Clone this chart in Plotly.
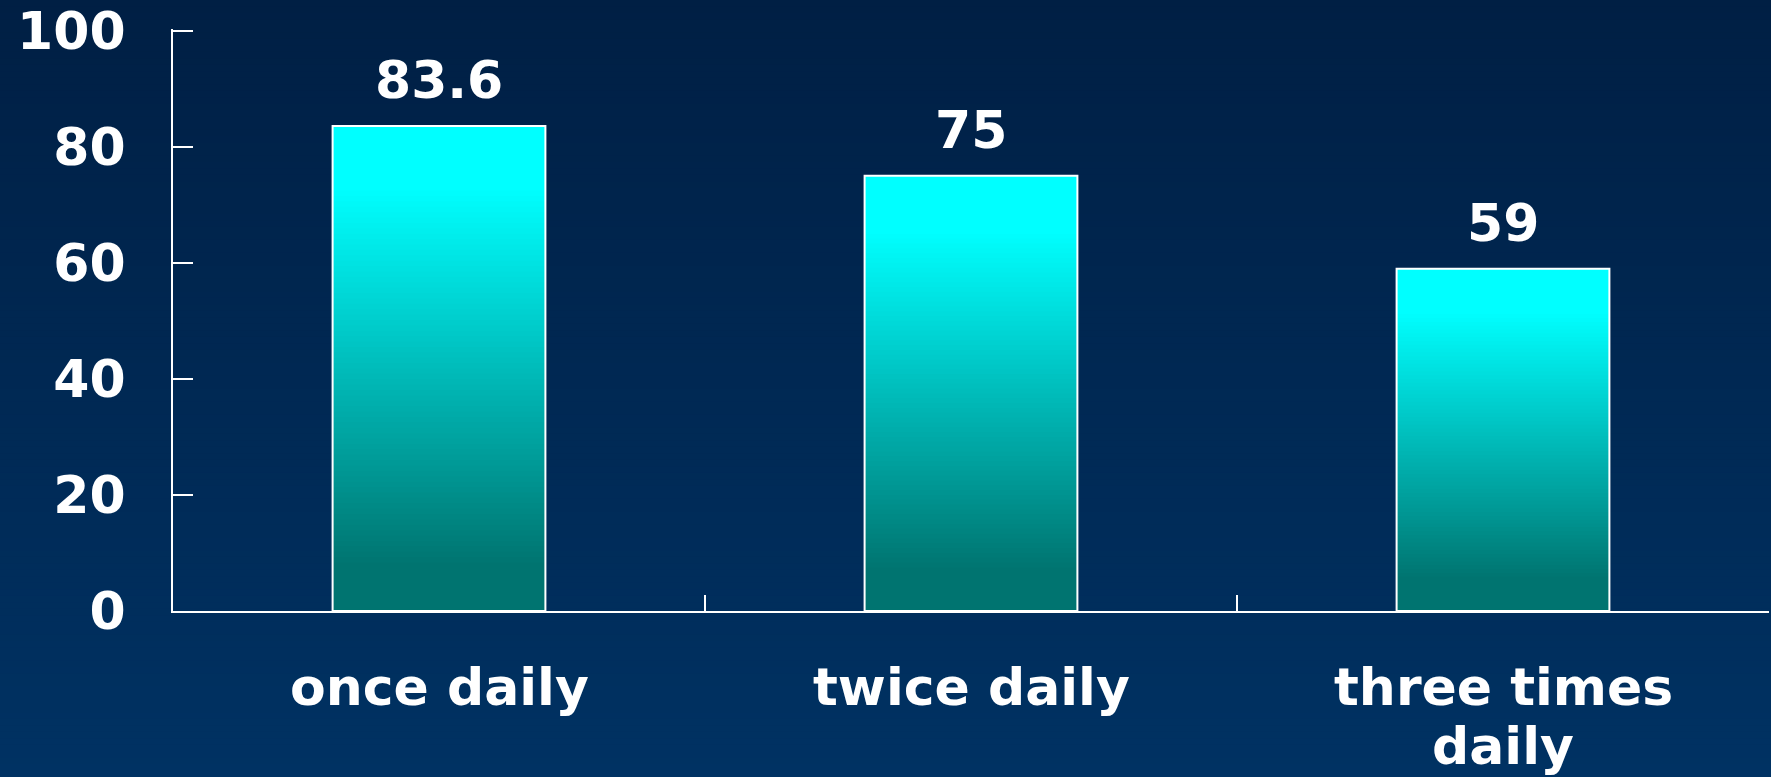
import plotly.graph_objects as go

# Share of patients by dosing frequency
categories = ["once daily", "twice daily", "three times daily"]
category_lines = [["once daily"], ["twice daily"], ["three times", "daily"]]
values = [83.6, 75, 59]
value_labels = ["83.6", "75", "59"]
y_ticks = [0, 20, 40, 60, 80, 100]

W, H = 1771, 777
FONT = "DejaVu Sans"
FSIZE = 52
TOP_BG = (0, 31, 68)
BOTTOM_BG = (0, 50, 99)
BAR_TOP = (0, 255, 255)
BAR_BOTTOM = (0, 116, 112)


def mix(c0, c1, t):
    t = max(0.0, min(1.0, t))
    return "rgb(%d,%d,%d)" % tuple(round(a + (b - a) * t) for a, b in zip(c0, c1))


def bar_color(frac):
    # frac: 0 at the base of the bar, 1 at its top
    return mix(BAR_BOTTOM, BAR_TOP, (frac - 0.10) / 0.78)


fig = go.Figure()

# Gradient bars: overlaid bars of decreasing height, each one a shade darker
steps = 90
for k in range(steps, 0, -1):
    frac = k / steps
    fig.add_trace(go.Bar(
        x=categories,
        y=[v * frac for v in values],
        marker=dict(color=bar_color(frac), line=dict(width=0)),
        hoverinfo="skip",
        showlegend=False,
    ))

# White outline on the full-height bars
fig.add_trace(go.Bar(
    x=categories,
    y=values,
    marker=dict(color="rgba(0,0,0,0)", line=dict(color="white", width=2)),
    showlegend=False,
))

label_font = dict(family=FONT, size=FSIZE, color="white", weight="bold")

# Value labels above each bar
for c, v, lab in zip(categories, values, value_labels):
    fig.add_annotation(
        x=c, y=v, text=lab, showarrow=False,
        yanchor="bottom", yshift=14, font=label_font,
    )

# Category labels under the axis, one annotation per text line
LINE_PITCH = 59
for c, lines in zip(categories, category_lines):
    for j, line in enumerate(lines):
        fig.add_annotation(
            x=c, xref="x", y=0, yref="paper", text=line, showarrow=False,
            yanchor="top", yshift=-(44 + j * LINE_PITCH), font=label_font,
        )

# Vertical background gradient across the whole page
ml, mr, mt, mb = 173, 2, 29, 166
pw, ph = W - ml - mr, H - mt - mb
strips = 120
for i in range(strips):
    p0 = H * i / strips
    p1 = H * (i + 1) / strips + 1
    fig.add_shape(
        type="rect", xref="paper", yref="paper", layer="below",
        x0=-ml / pw - 0.01, x1=1 + mr / pw + 0.01,
        y0=(H - mb - p1) / ph, y1=(H - mb - p0) / ph,
        fillcolor=mix(TOP_BG, BOTTOM_BG, (i + 0.5) / strips),
        line=dict(width=0),
    )

fig.update_layout(
    width=W, height=H,
    margin=dict(l=ml, r=mr, t=mt, b=mb, pad=0),
    paper_bgcolor="rgb(%d,%d,%d)" % TOP_BG,
    plot_bgcolor="rgba(0,0,0,0)",
    barmode="overlay",
    bargap=0.6,
    showlegend=False,
    xaxis=dict(
        type="category",
        showline=True, linecolor="white", linewidth=2,
        ticks="inside", tickson="boundaries", ticklen=16,
        tickcolor="white", tickwidth=2,
        showgrid=False, zeroline=False,
        showticklabels=False,
    ),
    yaxis=dict(
        range=[0, 100.3],
        tickvals=y_ticks,
        showline=True, linecolor="white", linewidth=2,
        ticks="inside", ticklen=20, tickcolor="white", tickwidth=2,
        showgrid=False, zeroline=False,
        tickfont=label_font,
        ticklabelstandoff=35,
    ),
)

fig.write_html("out.html")
